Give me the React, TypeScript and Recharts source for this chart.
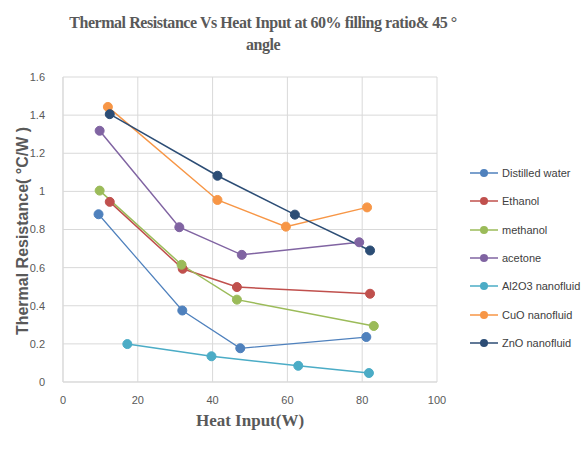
import { CartesianGrid, Label, Line, LineChart, XAxis, YAxis } from "recharts"

// heat input (W) and thermal resistance (°C/W) read for each fluid
const waterQ = [9.5, 31.9, 47.4, 81.1]
const waterR = [0.88, 0.375, 0.177, 0.236]
const ethanolQ = [12.5, 32, 46.5, 82.1]
const ethanolR = [0.945, 0.594, 0.498, 0.463]
const methanolQ = [9.8, 31.7, 46.5, 83.1]
const methanolR = [1.004, 0.615, 0.432, 0.294]
const acetoneQ = [9.8, 31.1, 47.8, 79.2]
const acetoneR = [1.318, 0.812, 0.667, 0.733]
const al2o3Q = [17.2, 39.7, 62.9, 81.8]
const al2o3R = [0.199, 0.135, 0.085, 0.047]
const cuoQ = [12, 41.3, 59.6, 81.3]
const cuoR = [1.443, 0.955, 0.815, 0.916]
const znoQ = [12.5, 41.3, 62, 82.1]
const znoR = [1.405, 1.082, 0.878, 0.69]

const xTicks = [0, 20, 40, 60, 80, 100]
const yTicks = [0, 0.2, 0.4, 0.6, 0.8, 1, 1.2, 1.4, 1.6]

const toPoints = (q: number[], r: number[]) => q.map((v, i) => ({ q: v, r: r[i] }))

const series = [
  { name: "Distilled water", color: "#4f81bd", width: 1.25, data: toPoints(waterQ, waterR) },
  { name: "Ethanol", color: "#c0504d", width: 1.5, data: toPoints(ethanolQ, ethanolR) },
  { name: "methanol", color: "#9bbb59", width: 1.5, data: toPoints(methanolQ, methanolR) },
  { name: "acetone", color: "#8064a2", width: 1.5, data: toPoints(acetoneQ, acetoneR) },
  { name: "Al2O3 nanofluid", color: "#4bacc6", width: 1.5, data: toPoints(al2o3Q, al2o3R) },
  { name: "CuO nanofluid", color: "#f79646", width: 1.5, data: toPoints(cuoQ, cuoR) },
  { name: "ZnO nanofluid", color: "#2c4d75", width: 1.5, data: toPoints(znoQ, znoR) },
]

const tickStyle = { fill: "#595959", fontSize: 11, fontFamily: "Liberation Sans, sans-serif" }

function LegendBox() {
  return (
    <div
      style={{
        position: "absolute",
        left: 470,
        top: 159,
        fontFamily: "Liberation Sans, sans-serif",
        fontSize: 11,
        color: "#404040",
      }}
    >
      {series.map((s) => (
        <div key={s.name} style={{ display: "flex", alignItems: "center", height: 28.3 }}>
          <svg width={30} height={10} style={{ marginRight: 2 }}>
            <line x1={0} y1={5} x2={28} y2={5} stroke={s.color} strokeWidth={1.5} />
            <circle cx={14} cy={5} r={4} fill={s.color} />
          </svg>
          <span>{s.name}</span>
        </div>
      ))}
    </div>
  )
}

export default function App() {
  return (
    <div style={{ position: "absolute", left: 0, top: 0, width: 587, height: 450, background: "#fff" }}>
      <div
        style={{
          position: "absolute",
          left: 0,
          top: 12,
          width: 526,
          textAlign: "center",
          fontFamily: "Liberation Serif, serif",
          fontWeight: "bold",
          fontSize: 16,
          letterSpacing: -0.45,
          lineHeight: "22px",
          color: "#595959",
        }}
      >
        Thermal Resistance Vs Heat Input at 60% filling ratio&amp; 45 °
        <br />
        angle
      </div>
      <LineChart width={587} height={450} margin={{ top: 77, right: 150, left: 0, bottom: 38 }}>
        <CartesianGrid stroke="#d9d9d9" />
        <XAxis
          type="number"
          dataKey="q"
          domain={[0, 100]}
          ticks={xTicks}
          interval={0}
          tick={tickStyle}
          tickLine={false}
          axisLine={{ stroke: "#d9d9d9" }}
          height={30}
          tickMargin={8}
          allowDuplicatedCategory={false}
        >
          <Label
            value="Heat Input(W)"
            position="bottom"
            offset={2}
            style={{ fill: "#595959", fontSize: 17, fontWeight: "bold", fontFamily: "Liberation Serif, serif" }}
          />
        </XAxis>
        <YAxis
          type="number"
          dataKey="r"
          domain={[0, 1.6]}
          ticks={yTicks}
          interval={0}
          tick={tickStyle}
          tickLine={false}
          axisLine={{ stroke: "#d9d9d9" }}
          width={63}
          tickMargin={12}
        >
          <Label
            content={() => (
              <text
                x={22}
                y={231}
                transform="rotate(-90 22 231)"
                textAnchor="middle"
                dominantBaseline="central"
                fill="#595959"
                fontSize={16}
                fontWeight="bold"
                fontFamily="Liberation Sans, sans-serif"
              >
                Thermal Resistance( °C/W )
              </text>
            )}
          />
        </YAxis>
        {series.map((s) => (
          <Line
            key={s.name}
            data={s.data}
            dataKey="r"
            name={s.name}
            stroke={s.color}
            strokeWidth={s.width}
            dot={{ r: 4.5, fill: s.color, stroke: s.color, strokeWidth: 1 }}
            activeDot={false}
            isAnimationActive={false}
          />
        ))}
      </LineChart>
      <LegendBox />
    </div>
  )
}
